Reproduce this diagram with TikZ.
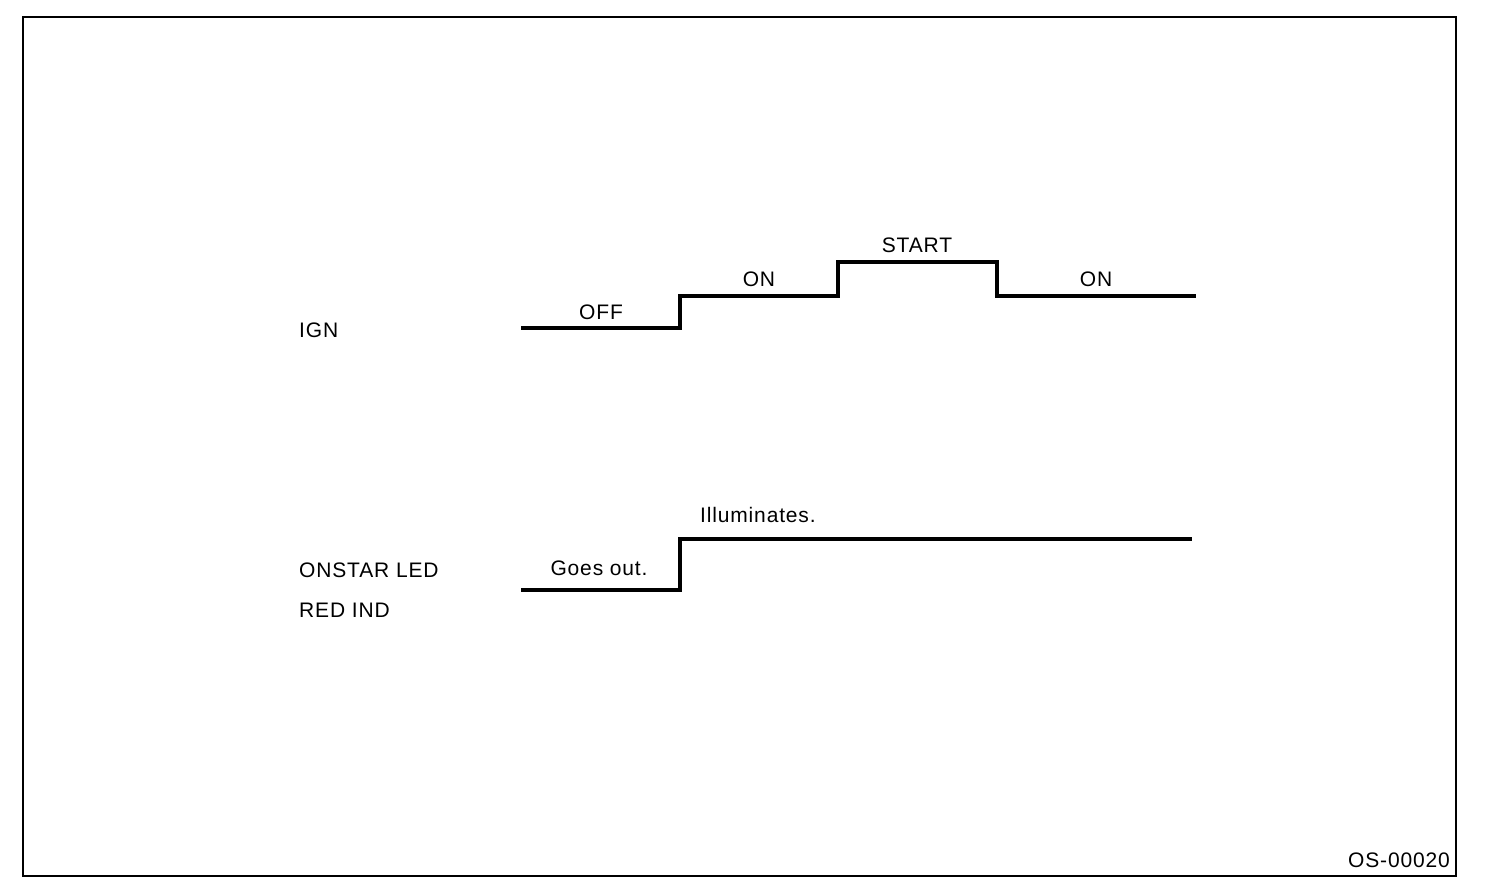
\documentclass[tikz,border=0pt]{standalone}
\usepackage{fontspec}
\setmainfont{Liberation Sans}[LetterSpace=4]
\begin{document}
\begin{tikzpicture}[x=1pt,y=-1pt,
  lbl/.style={inner sep=0pt,font=\fontsize{21}{24}\selectfont},
  wave/.style={line width=3.5pt,line join=miter},
  frame/.style={line width=1.5pt}]
\useasboundingbox (0,0) rectangle (1504,890);
\draw[frame] (23,17) rectangle (1456,876);
% IGN waveform
\coordinate (i0) at (521,328);
\coordinate (i1) at (680,328);
\coordinate (i2) at (680,296);
\coordinate (i3) at (838,296);
\coordinate (i4) at (838,262);
\coordinate (i5) at (997,262);
\coordinate (i6) at (997,296);
\coordinate (i7) at (1196,296);
\draw[wave] (i0) -- (i1) -- (i2) -- (i3) -- (i4) -- (i5) -- (i6) -- (i7);
\node[lbl] (off) at (601,312) {OFF};
\node[lbl] (on1) at (759,279) {ON};
\node[lbl] (start) at (917,245) {START};
\node[lbl] (on2) at (1096,279) {ON};
\node[lbl,anchor=west] (ign) at (299,330) {IGN};
% LED waveform
\coordinate (l0) at (521,590);
\coordinate (l1) at (680,590);
\coordinate (l2) at (680,539);
\coordinate (l3) at (1192,539);
\draw[wave] (l0) -- (l1) -- (l2) -- (l3);
\node[lbl] (goes) at (599,568) {Goes out.};
\node[lbl,anchor=west] (illum) at (700,515) {Illuminates.};
\node[lbl,anchor=west] (onstar) at (299,570) {ONSTAR LED};
\node[lbl,anchor=west] (redind) at (299,610) {RED IND};
\node[lbl,anchor=east] (code) at (1450,860) {OS-00020};
\end{tikzpicture}
\end{document}
